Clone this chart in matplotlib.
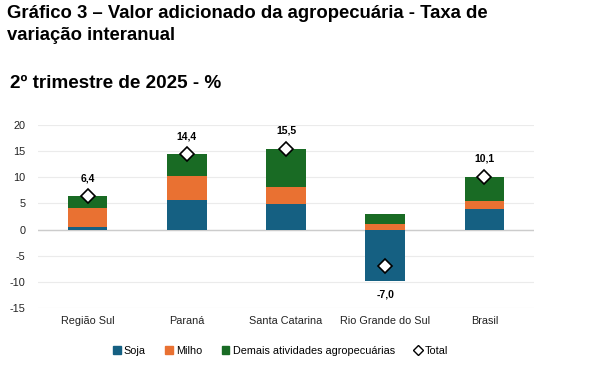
import numpy as np
import matplotlib
matplotlib.use('Agg')
import matplotlib.pyplot as plt
from matplotlib.lines import Line2D
from matplotlib.patches import Patch

categorias = ['Região Sul', 'Paraná', 'Santa Catarina', 'Rio Grande do Sul', 'Brasil']
soja = [0.4, 5.7, 4.8, -9.9, 4.0]
milho = [3.8, 4.6, 3.4, 1.1, 1.5]
demais = [2.2, 4.1, 7.3, 1.8, 4.6]
total = [6.4, 14.4, 15.5, -7.0, 10.1]
rotulos = ['6,4', '14,4', '15,5', '-7,0', '10,1']

c_soja = '#156082'
c_milho = '#E97132'
c_demais = '#196B24'

plt.rcParams['font.family'] = ['Liberation Sans', 'DejaVu Sans']
plt.rcParams['axes.unicode_minus'] = False

fig = plt.figure(figsize=(5.91, 3.74), dpi=100)
fig.text(0.012, 1 - 5/374, 'Gráfico 3 – Valor adicionado da agropecuária - Taxa de\nvariação interanual',
         fontsize=13.3, fontweight='bold', va='top', ha='left', linespacing=1.35)
fig.text(0.017, 1 - 88/374, '2º trimestre de 2025 - %', fontsize=13.6, fontweight='bold',
         va='baseline', ha='left')

ax = fig.add_axes([38/591, 1-308/374, (534-38)/591, (308-125)/374])

x = np.arange(len(categorias))
soja = np.array(soja)
milho = np.array(milho)
demais = np.array(demais)
w = 0.4

# positives stack up from 0, negatives down from 0
pos_base = np.zeros(len(x))
neg_base = np.zeros(len(x))
for vals, cor in [(soja, c_soja), (milho, c_milho), (demais, c_demais)]:
    base = np.where(vals >= 0, pos_base, neg_base)
    ax.bar(x, vals, w, bottom=base, color=cor, zorder=3)
    pos_base = pos_base + np.where(vals >= 0, vals, 0)
    neg_base = neg_base + np.where(vals < 0, vals, 0)

ax.plot(x, total, linestyle='none', marker='D', markersize=7.5, markerfacecolor='white',
        markeredgecolor='black', markeredgewidth=1.2, zorder=5)

for i, (t, r) in enumerate(zip(total, rotulos)):
    if t >= 0:
        ax.text(x[i], t + 3.4, r, ha='center', va='center', fontsize=7.5, fontweight='bold')
    else:
        ax.text(x[i], neg_base[i] - 2.6, r, ha='center', va='center', fontsize=7.5, fontweight='bold')

ax.set_xlim(-0.5, len(x) - 0.5)
ax.set_ylim(-15, 20)
ax.set_yticks(np.arange(-15, 21, 5))
ax.grid(axis='y', color='#ebebeb', linewidth=0.8, zorder=0)
ax.axhline(0, color='#cccccc', linewidth=1.0, zorder=2)
for s in ax.spines.values():
    s.set_visible(False)
ax.tick_params(axis='both', length=0, labelsize=7.8, colors='#222222')
ax.tick_params(axis='y', pad=9)
ax.tick_params(axis='x', pad=6)
ax.set_xticks(x)
ax.set_xticklabels(categorias)

handles = [Patch(color=c_soja, label='Soja'),
           Patch(color=c_milho, label='Milho'),
           Patch(color=c_demais, label='Demais atividades agropecuárias'),
           Line2D([], [], linestyle='none', marker='D', markersize=5, markerfacecolor='white',
                  markeredgecolor='black', markeredgewidth=1.0, label='Total')]
fig.legend(handles=handles, loc='center', bbox_to_anchor=(0.475, 0.062), ncol=4, frameon=False,
           fontsize=7.8, handlelength=0.7, handleheight=0.7, handletextpad=0.3, columnspacing=1.8)

fig.savefig('out.png', dpi=100)
